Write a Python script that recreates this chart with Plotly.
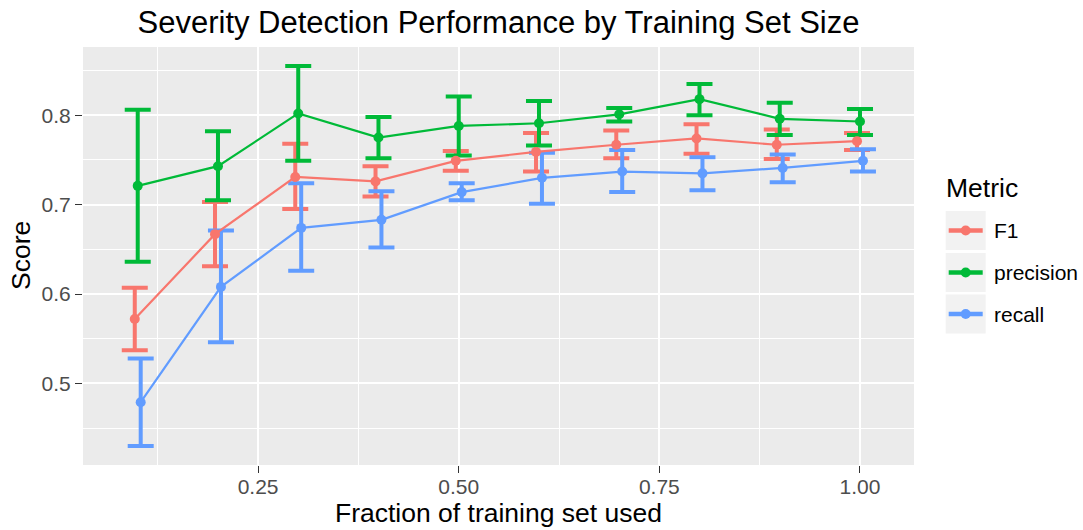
import plotly.graph_objects as go

# ---- data ----
frac = [0.1, 0.2, 0.3, 0.4, 0.5, 0.6, 0.7, 0.8, 0.9, 1.0]
metrics = ["F1", "precision", "recall"]
f1 = [0.572, 0.667, 0.731, 0.726, 0.749, 0.759, 0.767, 0.774, 0.767, 0.771]
f1_hi = [0.607, 0.703, 0.768, 0.743, 0.760, 0.780, 0.783, 0.790, 0.784, 0.780]
f1_lo = [0.537, 0.631, 0.695, 0.709, 0.738, 0.737, 0.752, 0.757, 0.751, 0.761]
precision = [0.721, 0.743, 0.802, 0.775, 0.788, 0.791, 0.801, 0.818, 0.796, 0.793]
precision_hi = [0.806, 0.782, 0.855, 0.798, 0.821, 0.816, 0.808, 0.835, 0.814, 0.807]
precision_lo = [0.636, 0.705, 0.749, 0.752, 0.755, 0.766, 0.793, 0.800, 0.778, 0.778]
recall = [0.479, 0.608, 0.674, 0.683, 0.714, 0.730, 0.737, 0.735, 0.741, 0.749]
recall_hi = [0.528, 0.671, 0.724, 0.715, 0.724, 0.758, 0.761, 0.753, 0.756, 0.762]
recall_lo = [0.430, 0.546, 0.626, 0.652, 0.705, 0.701, 0.714, 0.716, 0.725, 0.737]

x_ticks = [0.25, 0.50, 0.75, 1.00]
y_ticks = [0.5, 0.6, 0.7, 0.8]

# ---- style ----
colors = {"F1": "#F8766D", "precision": "#00BA38", "recall": "#619CFF"}
dodge = {"F1": -0.0037, "precision": 0.0, "recall": 0.0037}
series = {
    "F1": (f1, f1_lo, f1_hi),
    "precision": (precision, precision_lo, precision_hi),
    "recall": (recall, recall_lo, recall_hi),
}
FONT = "Liberation Sans, Arial, sans-serif"
W, H = 1083, 530
L, R, T, B = 83, 914, 47, 465


def px2x(p):
    return (p - L) / (R - L)


def py2y(p):
    return (B - p) / (B - T)


fig = go.Figure()

# error bars layer
for m in metrics:
    v, lo, hi = series[m]
    xs = [f + dodge[m] for f in frac]
    fig.add_trace(go.Scatter(
        x=xs, y=v, mode="markers",
        marker=dict(size=1, color="rgba(0,0,0,0)"),
        error_y=dict(type="data", symmetric=False,
                     array=[h - c for h, c in zip(hi, v)],
                     arrayminus=[c - l for c, l in zip(v, lo)],
                     color=colors[m], thickness=4, width=13),
        showlegend=False, hoverinfo="skip"))

# lines layer, then points layer
for m in metrics:
    v, lo, hi = series[m]
    xs = [f + dodge[m] for f in frac]
    fig.add_trace(go.Scatter(
        x=xs, y=v, mode="lines", name=m,
        line=dict(color=colors[m], width=2.2),
        showlegend=False))
for m in metrics:
    v, lo, hi = series[m]
    xs = [f + dodge[m] for f in frac]
    fig.add_trace(go.Scatter(
        x=xs, y=v, mode="markers", name=m,
        marker=dict(color=colors[m], size=10),
        showlegend=False))

# ---- manual legend ----
shapes = []
annotations = []
key_centers = [230.5, 272.5, 314]
kx0, kx1 = 945.7, 985.7
for m, cy in zip(metrics, key_centers):
    shapes.append(dict(type="rect", xref="paper", yref="paper",
                       x0=px2x(kx0), x1=px2x(kx1), y0=py2y(cy + 19.5), y1=py2y(cy - 19.5),
                       fillcolor="#F2F2F2", line=dict(width=0), layer="above"))
    shapes.append(dict(type="line", xref="paper", yref="paper",
                       x0=px2x(kx0 + 3), x1=px2x(kx1 - 3), y0=py2y(cy), y1=py2y(cy),
                       line=dict(color=colors[m], width=4.5), layer="above"))
    cx = (kx0 + kx1) / 2
    shapes.append(dict(type="circle", xref="paper", yref="paper",
                       x0=px2x(cx - 5), x1=px2x(cx + 5), y0=py2y(cy + 5), y1=py2y(cy - 5),
                       fillcolor=colors[m], line=dict(width=0), layer="above"))
    annotations.append(dict(text=m, xref="paper", yref="paper", x=px2x(992), y=py2y(cy),
                            xanchor="left", yanchor="middle", showarrow=False,
                            font=dict(family=FONT, size=21, color="black")))

annotations.append(dict(text="Metric", xref="paper", yref="paper", x=px2x(944), y=py2y(188),
                        xanchor="left", yanchor="middle", showarrow=False,
                        font=dict(family=FONT, size=26.5, color="black")))
# axis titles
annotations.append(dict(text="Fraction of training set used", xref="paper", yref="paper",
                        x=0.5, y=py2y(513), xanchor="center", yanchor="middle", showarrow=False,
                        font=dict(family=FONT, size=26.5, color="black")))
annotations.append(dict(text="Score", xref="paper", yref="paper", textangle=-90,
                        x=px2x(21), y=0.5, xanchor="center", yanchor="middle", showarrow=False,
                        font=dict(family=FONT, size=26.5, color="black")))

fig.update_layout(
    width=W, height=H,
    margin=dict(l=L, r=W - R, t=T, b=H - B),
    paper_bgcolor="white", plot_bgcolor="#EBEBEB",
    title=dict(text="Severity Detection Performance by Training Set Size",
               x=0.5, xref="paper", y=1 - 22 / H, yref="container",
               xanchor="center", yanchor="middle",
               font=dict(family=FONT, size=31, color="black")),
    shapes=shapes, annotations=annotations,
    showlegend=False,
)
fig.update_xaxes(range=[0.0318, 1.0673], tickvals=x_ticks, ticktext=[f"{t:.2f}" for t in x_ticks],
                 showgrid=True, gridcolor="white", gridwidth=2, zeroline=False,
                 ticks="outside", ticklen=7, tickwidth=1.3, tickcolor="#333333",
                 ticklabelstandoff=-4,
                 tickfont=dict(family=FONT, size=21, color="#4D4D4D"),
                 minor=dict(tickvals=[0.125, 0.375, 0.625, 0.875], showgrid=True,
                            gridcolor="white", gridwidth=1, ticks=""),
                 showline=False)
fig.update_yaxes(range=[0.4088, 0.8763], tickvals=y_ticks, ticktext=[f"{t:.1f}" for t in y_ticks],
                 showgrid=True, gridcolor="white", gridwidth=2, zeroline=False,
                 ticks="outside", ticklen=7, tickwidth=1.3, tickcolor="#333333",
                 tickfont=dict(family=FONT, size=21, color="#4D4D4D"),
                 minor=dict(tickvals=[0.45, 0.55, 0.65, 0.75, 0.85], showgrid=True,
                            gridcolor="white", gridwidth=1, ticks=""),
                 showline=False)

fig.write_html("out.html")
